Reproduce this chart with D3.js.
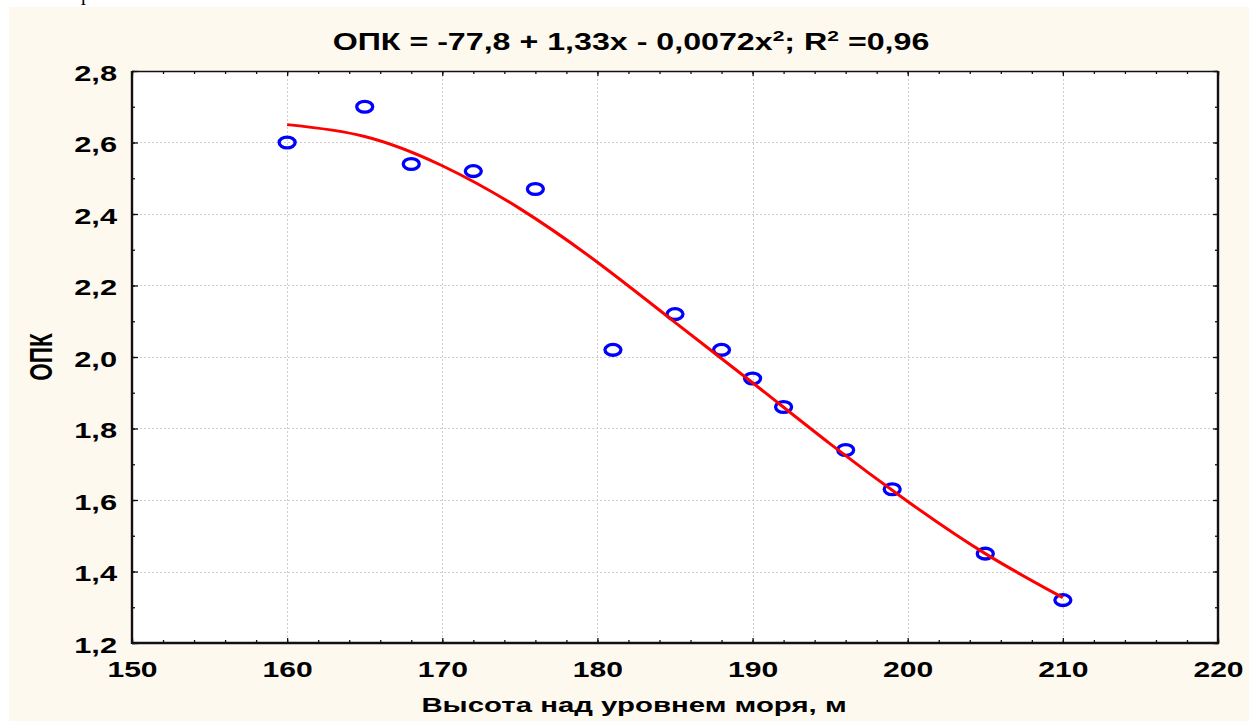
<!DOCTYPE html>
<html>
<head>
<meta charset="utf-8">
<script src="https://cdn.jsdelivr.net/npm/d3@7"></script>
<style>
  html, body { margin: 0; padding: 0; background: #ffffff; }
  svg { display: block; }
  text { font-family: "Liberation Sans", Arial, sans-serif; font-weight: bold; fill: #000; }
</style>
</head>
<body>
<svg id="chart" width="1249" height="722"></svg>
<script>
// Observed OPK values by altitude (m)
const altitude = [160, 165, 168, 172, 176, 181, 185, 188, 190, 192, 196, 199, 205, 210];
const opk      = [2.60, 2.70, 2.54, 2.52, 2.47, 2.02, 2.12, 2.02, 1.94, 1.86, 1.74, 1.63, 1.45, 1.32];

// Fitted trend curve sampled along altitude
const fitAltitude = [160, 165, 170, 175, 180, 185, 190, 195, 200, 205, 210];
const fitOpk      = [2.65, 2.617, 2.535, 2.415, 2.265, 2.097, 1.928, 1.757, 1.596, 1.450, 1.327];

// Axis ticks
const xMajor = [150, 160, 170, 180, 190, 200, 210, 220];
const xMinor = d3.range(150, 221, 2);
const yMajor = [1.2, 1.4, 1.6, 1.8, 2.0, 2.2, 2.4, 2.6, 2.8];
const yMinor = d3.range(12, 29, 1).map(v => v / 10);

const titleParts = [
  { t: "ОПК = -77,8 + 1,33x - 0,0072x" }, { t: "2", sup: true },
  { t: "; R" }, { t: "2", sup: true }, { t: " =0,96" }
];
const xTitle = "Высота над уровнем моря, м";
const yTitle = "ОПК";

const SX = 1.4; // horizontal stretch of the lettering

const svg = d3.select("#chart");
const M = { left: 132, right: 1218, top: 71, bottom: 643 };

// cream panel
svg.append("rect").attr("x", 9).attr("y", 7).attr("width", 1240).attr("height", 714).attr("fill", "#fef9ef");
// stray glyph from the text line above
svg.append("text").attr("x", 81).attr("y", 0).style("font-family", "'Liberation Serif', serif")
  .style("font-weight", "normal").style("font-size", "20px").text("р");

// plot area
svg.append("rect").attr("x", M.left).attr("y", M.top).attr("width", M.right - M.left)
  .attr("height", M.bottom - M.top).attr("fill", "#ffffff");

const x = d3.scaleLinear().domain([150, 220]).range([M.left, M.right]);
const y = d3.scaleLinear().domain([1.2, 2.8]).range([M.bottom, M.top]);
const fmt = d => d3.format(".1f")(d).replace(".", ",");

// grid
const grid = svg.append("g").attr("stroke", "#cdcdcd").attr("stroke-width", 1).attr("stroke-dasharray", "2,2");
grid.selectAll(".gx").data(xMajor.slice(1, -1)).join("line")
  .attr("x1", d => Math.round(x(d)) + 0.5).attr("x2", d => Math.round(x(d)) + 0.5)
  .attr("y1", M.top).attr("y2", M.bottom);
grid.selectAll(".gy").data(yMajor.slice(1, -1)).join("line")
  .attr("y1", d => Math.round(y(d)) + 0.5).attr("y2", d => Math.round(y(d)) + 0.5)
  .attr("x1", M.left).attr("x2", M.right);

// axes: ticks pointing inward on all four sides
function tickAxis(axis, vals, size, tr) {
  const g = svg.append("g").attr("transform", tr)
    .call(axis.tickValues(vals).tickSize(size).tickFormat(""));
  g.select(".domain").remove();
  g.selectAll(".tick line").attr("stroke", "#111").attr("stroke-width", 1.3);
  return g;
}
tickAxis(d3.axisBottom(x), xMinor, -3, `translate(0,${M.bottom})`);
tickAxis(d3.axisBottom(x), xMajor, -5, `translate(0,${M.bottom})`);
tickAxis(d3.axisTop(x), xMinor, -3, `translate(0,${M.top})`);
tickAxis(d3.axisTop(x), xMajor, -5, `translate(0,${M.top})`);
tickAxis(d3.axisLeft(y), yMinor, -3, `translate(${M.left},0)`);
tickAxis(d3.axisLeft(y), yMajor, -6, `translate(${M.left},0)`);
tickAxis(d3.axisRight(y), yMinor, -3, `translate(${M.right},0)`);
tickAxis(d3.axisRight(y), yMajor, -5, `translate(${M.right},0)`);

// tick labels
const xl = svg.append("g").attr("transform", `translate(0,${M.bottom})`)
  .call(d3.axisBottom(x).tickValues(xMajor).tickSize(0).tickPadding(19).tickFormat(d3.format("d")));
xl.select(".domain").remove();
xl.selectAll("text").style("font-size", "21.5px").attr("fill", "#000")
  .attr("transform", `scale(${SX},1)`);

const yl = svg.append("g").attr("transform", `translate(${M.left},0)`)
  .call(d3.axisLeft(y).tickValues(yMajor).tickSize(0).tickFormat(fmt));
yl.select(".domain").remove();
yl.selectAll("text").style("font-size", "22px").attr("fill", "#000")
  .attr("x", -15 / SX).attr("dy", "0.42em").attr("transform", `scale(${SX},1)`);

// frame
svg.append("line").attr("x1", M.left).attr("x2", M.right).attr("y1", M.top + 0.5).attr("y2", M.top + 0.5)
  .attr("stroke", "#111").attr("stroke-width", 1.3);
svg.append("line").attr("x1", M.left).attr("x2", M.right + 1).attr("y1", M.bottom).attr("y2", M.bottom)
  .attr("stroke", "#111").attr("stroke-width", 2.4);
svg.append("line").attr("x1", M.left).attr("x2", M.left).attr("y1", M.top).attr("y2", M.bottom + 1)
  .attr("stroke", "#111").attr("stroke-width", 2.4);
svg.append("line").attr("x1", M.right).attr("x2", M.right).attr("y1", M.top).attr("y2", M.bottom + 1)
  .attr("stroke", "#111").attr("stroke-width", 2.4);

// observed points
svg.append("g").selectAll("ellipse").data(altitude.map((a, i) => [a, opk[i]])).join("ellipse")
  .attr("cx", d => x(d[0])).attr("cy", d => y(d[1])).attr("rx", 8).attr("ry", 5.4)
  .attr("fill", "none").attr("stroke", "#0000ff").attr("stroke-width", 3.3);

// fitted curve
const line = d3.line().x(d => x(d[0])).y(d => y(d[1])).curve(d3.curveNatural);
svg.append("path").datum(fitAltitude.map((a, i) => [a, fitOpk[i]]))
  .attr("d", line).attr("fill", "none").attr("stroke", "#ff0000").attr("stroke-width", 3);

// title
const tg = svg.append("g").attr("transform", `translate(631,50) scale(${SX},1)`);
const tt = tg.append("text").attr("text-anchor", "middle").style("font-size", "23px");
titleParts.forEach(p => {
  const s = tt.append("tspan").text(p.t);
  if (p.sup) s.style("font-size", "15px").attr("dy", -9);
  else if (tt.selectAll("tspan").size() > 1) s.attr("dy", 9);
});

// axis titles
svg.append("g").attr("transform", `translate(634,712) scale(${SX},1)`)
  .append("text").attr("text-anchor", "middle").style("font-size", "21px").text(xTitle);
svg.append("g").attr("transform", `translate(52,357) scale(${SX},1) rotate(-90)`)
  .append("text").attr("text-anchor", "middle").style("font-size", "22.5px").text(yTitle);
</script>
</body>
</html>
